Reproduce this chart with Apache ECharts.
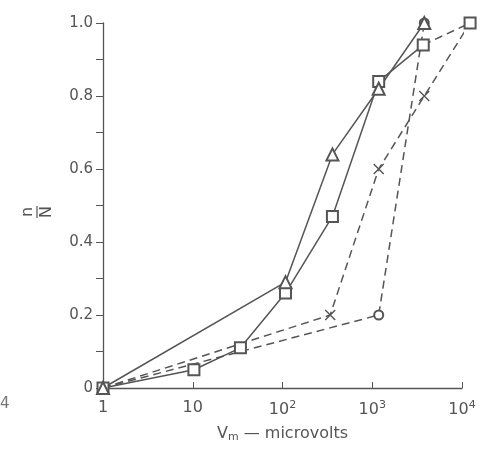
<!DOCTYPE html>
<html>
<head>
<meta charset="utf-8">
<script src="https://cdn.jsdelivr.net/npm/echarts@6/dist/echarts.min.js"></script>
<style>html,body{margin:0;padding:0;background:#fff}#c{width:484px;height:451px}</style>
</head>
<body>
<div id="c"></div>
<script>
// ---- data ----
var xTickLabels = ['1', '10', '10{sup|2}', '10{sup|3}', '10{sup|4}'];
var yTickLabels = ['0', '0.2', '0.4', '0.6', '0.8', '1.0'];
var trianglesX = [1, 108, 360, 1180, 3800];
var trianglesY = [0, 0.29, 0.64, 0.82, 1.0];
var squaresX = [1, 10.3, 34, 108, 360, 1180, 3700];
var squaresY = [0, 0.05, 0.11, 0.26, 0.47, 0.84, 0.94];
var squaresTailX = [3700, 12300];
var squaresTailY = [0.94, 1.0];
var crossesX = [1, 340, 1180, 3800, 12300];
var crossesY = [0, 0.2, 0.6, 0.8, 1.0];
var circlesX = [1, 1180, 3800];
var circlesY = [0, 0.2, 1.0];

function pairs(xs, ys) { return xs.map(function (x, i) { return [x, ys[i]]; }); }

var C = '#555';
var FONT = 'DejaVu Sans';
var crossPath = 'path://M0,0L10,10M10,0L0,10';

var chart = echarts.init(document.getElementById('c'), null, {renderer: 'canvas'});
chart.setOption({
  backgroundColor: '#fff',
  animation: false,
  grid: {left: 103, top: 23, width: 359, height: 365},
  xAxis: {
    type: 'log', logBase: 10, min: 1, max: 10000, interval: 1,
    axisLine: {lineStyle: {color: C, width: 1.3}},
    axisTick: {show: true, inside: true, length: 6, lineStyle: {color: C}},
    splitLine: {show: false},
    axisLabel: {
      color: '#555', fontFamily: FONT, fontSize: 16, margin: 12,
      formatter: function (v) {
        var i = Math.round(Math.log(v) / Math.LN10);
        return xTickLabels[i] || '';
      },
      rich: {sup: {fontSize: 11, verticalAlign: 'top', padding: [0, 0, 8, 0], color: '#555', fontFamily: FONT}}
    },
    name: 'V{sub|m} \u2014 microvolts',
    nameLocation: 'middle', nameGap: 36,
    nameTextStyle: {
      color: '#555', fontFamily: FONT, fontSize: 16,
      rich: {sub: {fontSize: 11, padding: [8, 0, 0, 0], color: '#555', fontFamily: FONT}}
    }
  },
  yAxis: {
    type: 'value', min: 0, max: 1, interval: 0.1,
    axisLine: {show: true, lineStyle: {color: C, width: 1.3}},
    axisTick: {show: true, inside: false, length: 7, lineStyle: {color: C}},
    splitLine: {show: false},
    axisLabel: {
      color: '#555', fontFamily: FONT, fontSize: 15, margin: 10,
      formatter: function (v) {
        var k = Math.round(v * 10);
        return k % 2 === 0 ? yTickLabels[k / 2] : '';
      }
    }
  },
  graphic: [
    {
      type: 'group', x: 37, y: 212, rotation: Math.PI / 2,
      children: [
        {type: 'text', x: 0, y: -9, style: {text: 'n', fill: '#555', font: '16px "DejaVu Sans"', textAlign: 'center', textVerticalAlign: 'middle'}},
        {type: 'line', shape: {x1: -6, y1: 0, x2: 6, y2: 0}, style: {stroke: '#555', lineWidth: 1.2}},
        {type: 'text', x: 0, y: 10, style: {text: 'N', fill: '#555', font: '16px "DejaVu Sans"', textAlign: 'center', textVerticalAlign: 'middle'}}
      ]
    },
    {type: 'text', left: 0, top: 397, style: {text: '4', fill: '#777', font: '15px "DejaVu Sans"'}}
  ],
  series: [
    {
      type: 'line', data: pairs(circlesX, circlesY), clip: false,
      symbol: 'emptyCircle', symbolSize: 9,
      lineStyle: {color: C, width: 1.5, type: [8, 5]},
      itemStyle: {color: C, borderWidth: 1.2}
    },
    {
      type: 'line', data: pairs(crossesX, crossesY), clip: false,
      symbol: crossPath, symbolSize: 10,
      lineStyle: {color: C, width: 1.5, type: [8, 5]},
      itemStyle: {color: 'none', borderColor: C, borderWidth: 1.4}
    },
    {
      type: 'line', data: pairs(squaresTailX, squaresTailY), clip: false,
      symbol: 'none',
      lineStyle: {color: C, width: 1.5, type: [8, 5]}
    },
    {
      type: 'line', data: pairs(squaresX.concat([squaresTailX[1]]), squaresY.concat([squaresTailY[1]])).slice(0, squaresX.length), clip: false,
      symbol: 'emptyRect', symbolSize: 11,
      lineStyle: {color: C, width: 1.5},
      itemStyle: {color: C, borderWidth: 1.2}
    },
    {
      type: 'line', data: [[squaresTailX[1], squaresTailY[1]]], clip: false,
      symbol: 'emptyRect', symbolSize: 11,
      lineStyle: {color: C, width: 1.5},
      itemStyle: {color: C, borderWidth: 1.2}
    },
    {
      type: 'line', data: pairs(trianglesX, trianglesY), clip: false,
      symbol: 'emptyTriangle', symbolSize: 12,
      lineStyle: {color: C, width: 1.5},
      itemStyle: {color: C, borderWidth: 1.2}
    }
  ]
});
</script>
</body>
</html>
